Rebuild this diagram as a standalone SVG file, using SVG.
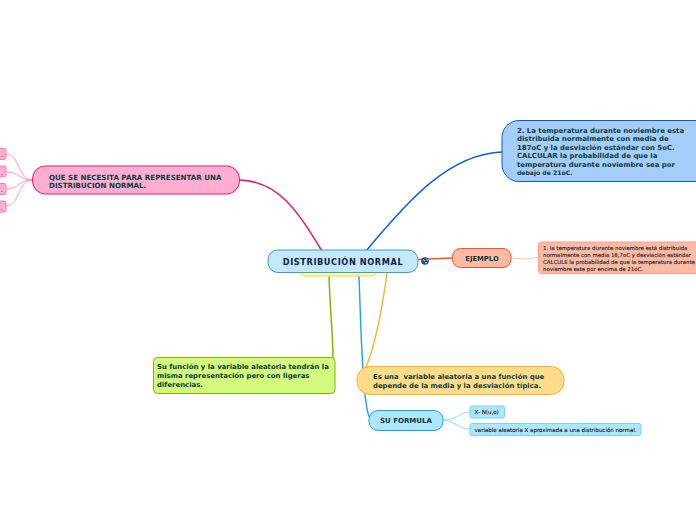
<svg xmlns="http://www.w3.org/2000/svg" width="696" height="520" viewBox="0 0 696 520">
<style>
text{font-family:"DejaVu Sans",Verdana,sans-serif;font-weight:bold;fill:#0b3b3b}
.t7{font-size:7.1px}
.t6{font-size:6.93px}
.s{font-size:5.4px;font-weight:normal;fill:#222;stroke:#222;stroke-width:.12}
.f{font-size:5.5px;font-weight:normal;fill:#222;stroke:#222;stroke-width:.12}
.c{fill:none;stroke-linecap:round}
</style>
<rect width="696" height="520" fill="#fff"/>
<g id="connectors">
<path class="c" d="M240 180C280 182 298 212 322 251" stroke="#f0146e" stroke-width="1.500"/>
<path class="c" d="M502 152C450 154 410 198 366 251" stroke="#0a5fd0" stroke-width="1.400"/>
<path class="c" d="M418 259.500L452 258" stroke="#f5541e" stroke-width="1.500"/>
<path class="c" d="M511 258C522 259 527 260 538 257" stroke="#ffc4b4" stroke-width="1"/>
<path class="c" d="M329 276C330 310 333 335 333 358" stroke="#84b40a" stroke-width="1.500"/>
<path class="c" d="M387 273C382 310 375 345 366 367" stroke="#ffb020" stroke-width="1.400"/>
<path class="c" d="M359 276C361 330 362 380 366 402C367 412 369 418 372 421" stroke="#14a5e6" stroke-width="1.400"/>
<path class="c" d="M443 420C456 421 458 412 470 412M443 420C456 421 458 429 470 429" stroke="#8cdcf5" stroke-width="1"/>
<path class="c" d="M32 180C18 180 20 154 6 154M32 180C18 180 20 172 6 172M32 180C18 180 20 189 6 189M32 180C18 180 20 206 6 206" stroke="#ff8cc0" stroke-width=".9"/>
</g>
<g id="n-yellow"><rect x="299" y="262" width="79" height="14" rx="6" fill="#fdf7a8" stroke="#f0e040"/></g>
<g id="n-main"><rect x="268" y="250" width="150" height="22.500" rx="10" fill="#c5e9fc" stroke="#3c9bd8"/>
<text x="343" y="265" text-anchor="middle" style="font-size:8.2px;fill:#0a2350;letter-spacing:.6px">DISTRIBUCIÓN NORMAL</text></g>
<g id="n-globe"><circle cx="425" cy="261" r="3.800" fill="#1c4a78"/><path d="M423 259l2 1 -1 2zM426 258l2 2-1 1zM425 262l2 0-1 2z" fill="#dfeaf2"/></g>
<g id="n-pink"><rect x="32.500" y="166" width="207" height="28" rx="13" fill="#ffaed2" stroke="#f0146e"/>
<text class="t7" x="49" y="179.500">QUE SE NECESITA PARA REPRESENTAR UNA</text>
<text class="t7" x="49" y="187.500">DISTRIBUCIÓN NORMAL.</text></g>
<g id="n-p1"><rect x="-10" y="148.500" width="16" height="11" rx="2" fill="#ffaed2" stroke="#ff7ab4"/><text class="s" x="1" y="157">.</text></g>
<g id="n-p2"><rect x="-10" y="166" width="16" height="11" rx="2" fill="#ffaed2" stroke="#ff7ab4"/><text class="s" x="1" y="174.500">.</text></g>
<g id="n-p3"><rect x="-10" y="183.500" width="16" height="11" rx="2" fill="#ffaed2" stroke="#ff7ab4"/><text class="s" x="1" y="192">.</text></g>
<g id="n-p4"><rect x="-10" y="201" width="16" height="11" rx="2" fill="#ffaed2" stroke="#ff7ab4"/><text class="s" x="1" y="209.500">.</text></g>
<g id="n-blue"><rect x="502" y="120.500" width="210" height="61" rx="17" fill="#a5cdfa" stroke="#0a5fd0"/>
<text class="t6" x="517" y="133">2. La temperatura durante noviembre esta</text>
<text class="t6" x="517" y="141.400">distribuida normalmente con media de</text>
<text class="t6" x="517" y="149.800">187oC y la desviación estándar con 5oC.</text>
<text class="t6" x="517" y="158.200">CALCULAR la probabilidad de que la</text>
<text class="t6" x="517" y="166.600">temperatura durante noviembre sea por</text>
<text x="517" y="175" style="font-size:6.1px">debajo de 21oC.</text></g>
<g id="n-ejemplo"><rect x="452.500" y="248.500" width="58.500" height="19" rx="8" fill="#ffbaa6" stroke="#f5541e"/>
<text x="482" y="261" text-anchor="middle" style="font-size:6.800px">EJEMPLO</text></g>
<g id="n-ej1"><rect x="538.500" y="242" width="170" height="31.500" rx="3" fill="#ffbaa6" stroke="#ff9c84"/>
<text class="s" x="543" y="250">1. la temperatura durante noviembre está distribuida</text>
<text class="s" x="543" y="257">normalmente con media 18,7oC y desviación estándar</text>
<text class="s" x="543" y="264">CALCULE la probabilidad de que la temperatura durante</text>
<text class="s" x="543" y="271">noviembre este por encima de 21oC.</text></g>
<g id="n-green"><rect x="153.500" y="357.500" width="181.500" height="36" rx="4" fill="#d2fa7c" stroke="#84b40a"/>
<text class="t6" x="157" y="369">Su función y la variable aleatoria tendrán la</text>
<text class="t6" x="157" y="377.500">misma representación pero con ligeras</text>
<text class="t6" x="157" y="386.500">diferencias.</text></g>
<g id="n-orange"><rect x="357" y="366.500" width="207" height="28" rx="13" fill="#ffdc8c" stroke="#ffb020"/>
<text xml:space="preserve" x="373" y="379" style="font-size:6.9px">Es una  variable aleatoria a una función que</text>
<text x="373" y="388" style="font-size:6.9px">depende de la media y la desviación típica.</text></g>
<g id="n-formula"><rect x="369" y="410.500" width="74" height="20" rx="9" fill="#aee6fc" stroke="#14a5e6"/>
<text x="406" y="423" text-anchor="middle" style="font-size:7px">SU FORMULA</text></g>
<g id="n-f1"><rect x="470" y="406" width="34.500" height="12" rx="2" fill="#aee6fc" stroke="#78d2f5"/>
<text class="f" x="474.500" y="414">X- N(u,o)</text></g>
<g id="n-f2"><rect x="470" y="423.500" width="171" height="12" rx="2" fill="#aee6fc" stroke="#78d2f5"/>
<text class="f" x="474.500" y="431.500">variable aleatoria X aproximada a una distribución normal.</text></g>
</svg>
